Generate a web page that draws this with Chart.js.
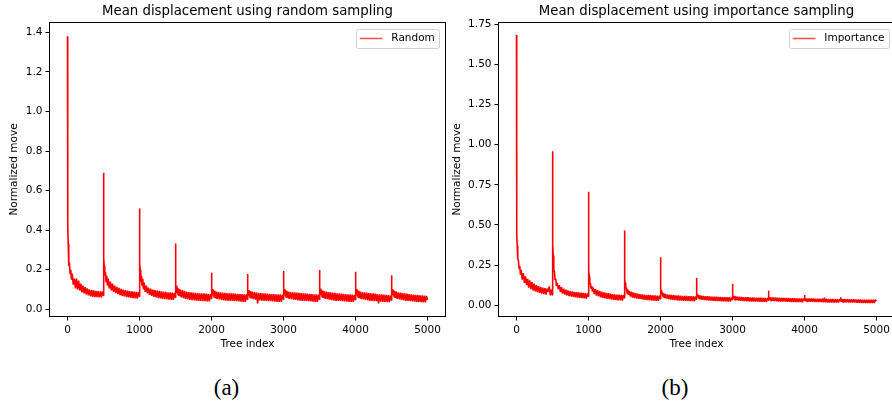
<!DOCTYPE html>
<html><head><meta charset="utf-8">
<script src="https://cdn.jsdelivr.net/npm/chart.js@4.4.0/dist/chart.umd.min.js"></script>
<style>
html,body{margin:0;padding:0;background:#fff;width:892px;height:404px;overflow:hidden;position:relative}
canvas{position:absolute;top:0}
#ca{left:0;width:446px;height:362px}
#cb{left:446px;width:450px;height:362px}
.cap{position:absolute;font-family:'Liberation Serif','DejaVu Serif',serif;font-size:23px;color:#000;transform:translate(-50%,-50%);top:388px;white-space:nowrap}
</style></head><body>
<canvas id="ca" width="446" height="362"></canvas>
<canvas id="cb" width="450" height="362"></canvas>
<div class="cap" style="left:226.5px">(a)</div>
<div class="cap" style="left:675px">(b)</div>
<script>
// ---- data ----
const segmentStarts = [0, 500, 1000, 1500, 2000, 2500, 3000, 3500, 4000, 4500];
const sampleOffsets = [0, 1, 3, 6, 10, 15, 20, 27, 35, 45, 55, 65, 80, 95, 110, 125, 140, 155, 170, 185,
  200, 215, 230, 245, 260, 275, 290, 305, 320, 335, 350, 365, 380, 395, 410, 425, 440, 455, 470, 485, 499];
const xTicks = [0, 1000, 2000, 3000, 4000, 5000];
const yTicksRandom = [0, 0.2, 0.4, 0.6, 0.8, 1.0, 1.2, 1.4];
const yTicksImportance = [0, 0.25, 0.5, 0.75, 1.0, 1.25, 1.5, 1.75];

const randomMove = [
  1.38, 0.64, 0.53, 0.42, 0.33, 0.29, 0.22, 0.235, 0.18, 0.2, 0.15, 0.18, 0.125, 0.155, 0.105, 0.155, 0.1, 0.145, 0.095, 0.13,
  0.085, 0.12, 0.08, 0.112, 0.075, 0.106, 0.07, 0.1, 0.066, 0.097, 0.063, 0.095, 0.062, 0.093, 0.061, 0.092, 0.06, 0.091, 0.06, 0.09, 0.07,
  0.69, 0.42, 0.30, 0.26, 0.22, 0.22, 0.17, 0.19, 0.14, 0.17, 0.12, 0.155, 0.105, 0.14, 0.095, 0.13, 0.088, 0.12, 0.082, 0.113,
  0.077, 0.108, 0.072, 0.103, 0.068, 0.1, 0.065, 0.097, 0.062, 0.094, 0.06, 0.092, 0.058, 0.09, 0.056, 0.089, 0.055, 0.088, 0.054, 0.087, 0.065,
  0.51, 0.33, 0.27, 0.23, 0.2, 0.2, 0.14, 0.17, 0.12, 0.155, 0.1, 0.135, 0.088, 0.12, 0.08, 0.11, 0.073, 0.104, 0.068, 0.1,
  0.063, 0.097, 0.06, 0.095, 0.057, 0.093, 0.055, 0.091, 0.053, 0.089, 0.052, 0.088, 0.05, 0.086, 0.049, 0.085, 0.048, 0.084, 0.047, 0.083, 0.06,
  0.333, 0.19, 0.14, 0.12, 0.1, 0.12, 0.083, 0.11, 0.073, 0.105, 0.067, 0.1, 0.06, 0.097, 0.056, 0.093, 0.053, 0.09, 0.05, 0.087,
  0.048, 0.085, 0.046, 0.084, 0.045, 0.083, 0.044, 0.082, 0.043, 0.081, 0.042, 0.08, 0.041, 0.08, 0.041, 0.079, 0.04, 0.078, 0.04, 0.077, 0.055,
  0.185, 0.13, 0.11, 0.1, 0.085, 0.103, 0.07, 0.097, 0.061, 0.093, 0.055, 0.09, 0.052, 0.088, 0.05, 0.086, 0.047, 0.084, 0.045, 0.083,
  0.044, 0.082, 0.043, 0.081, 0.042, 0.08, 0.042, 0.08, 0.041, 0.079, 0.041, 0.078, 0.04, 0.077, 0.039, 0.077, 0.038, 0.076, 0.038, 0.075, 0.05,
  0.178, 0.125, 0.105, 0.095, 0.083, 0.098, 0.067, 0.095, 0.059, 0.091, 0.055, 0.089, 0.051, 0.087, 0.049, 0.085, 0.03, 0.083, 0.045, 0.082,
  0.044, 0.081, 0.043, 0.08, 0.042, 0.079, 0.041, 0.078, 0.041, 0.077, 0.04, 0.077, 0.039, 0.076, 0.038, 0.075, 0.038, 0.075, 0.037, 0.074, 0.05,
  0.193, 0.14, 0.115, 0.1, 0.085, 0.103, 0.07, 0.097, 0.061, 0.093, 0.057, 0.09, 0.053, 0.088, 0.051, 0.086, 0.049, 0.085, 0.047, 0.084,
  0.045, 0.083, 0.044, 0.082, 0.043, 0.081, 0.043, 0.08, 0.042, 0.079, 0.041, 0.078, 0.04, 0.077, 0.039, 0.076, 0.038, 0.075, 0.038, 0.074, 0.05,
  0.198, 0.14, 0.12, 0.105, 0.087, 0.105, 0.072, 0.099, 0.063, 0.094, 0.057, 0.091, 0.053, 0.089, 0.051, 0.087, 0.048, 0.085, 0.046, 0.084,
  0.044, 0.083, 0.043, 0.081, 0.042, 0.08, 0.042, 0.079, 0.041, 0.078, 0.04, 0.077, 0.039, 0.076, 0.038, 0.075, 0.037, 0.074, 0.037, 0.073, 0.048,
  0.19, 0.135, 0.115, 0.1, 0.085, 0.102, 0.07, 0.097, 0.061, 0.093, 0.056, 0.089, 0.052, 0.087, 0.05, 0.085, 0.047, 0.084, 0.045, 0.082,
  0.043, 0.081, 0.042, 0.08, 0.041, 0.079, 0.041, 0.077, 0.03, 0.076, 0.039, 0.075, 0.038, 0.074, 0.037, 0.073, 0.036, 0.072, 0.036, 0.071, 0.046,
  0.172, 0.125, 0.11, 0.1, 0.085, 0.103, 0.072, 0.097, 0.063, 0.093, 0.057, 0.089, 0.053, 0.086, 0.05, 0.084, 0.047, 0.082, 0.045, 0.08,
  0.043, 0.079, 0.042, 0.077, 0.041, 0.076, 0.04, 0.074, 0.039, 0.073, 0.038, 0.072, 0.037, 0.071, 0.036, 0.07, 0.035, 0.069, 0.035, 0.068, 0.047
];

const importanceMove = [
  1.683, 0.63, 0.5, 0.43, 0.37, 0.34, 0.29, 0.28, 0.23, 0.245, 0.19, 0.22, 0.16, 0.2, 0.14, 0.18, 0.125, 0.165, 0.11, 0.155,
  0.1, 0.145, 0.092, 0.135, 0.087, 0.125, 0.082, 0.12, 0.077, 0.115, 0.073, 0.11, 0.07, 0.107, 0.067, 0.104, 0.085, 0.118, 0.062, 0.098, 0.065,
  0.96, 0.55, 0.45, 0.38, 0.31, 0.28, 0.22, 0.21, 0.16, 0.165, 0.12, 0.14, 0.1, 0.125, 0.082, 0.113, 0.073, 0.103, 0.066, 0.097,
  0.062, 0.092, 0.058, 0.088, 0.055, 0.086, 0.053, 0.084, 0.05, 0.082, 0.048, 0.08, 0.046, 0.078, 0.045, 0.077, 0.043, 0.075, 0.042, 0.074, 0.055,
  0.707, 0.4, 0.3, 0.22, 0.18, 0.165, 0.135, 0.135, 0.105, 0.12, 0.085, 0.11, 0.07, 0.1, 0.06, 0.095, 0.055, 0.09, 0.05, 0.085,
  0.046, 0.08, 0.043, 0.077, 0.04, 0.075, 0.038, 0.072, 0.036, 0.07, 0.034, 0.068, 0.033, 0.067, 0.031, 0.066, 0.03, 0.065, 0.029, 0.064, 0.045,
  0.465, 0.25, 0.19, 0.16, 0.14, 0.13, 0.1, 0.11, 0.075, 0.1, 0.065, 0.09, 0.055, 0.085, 0.048, 0.08, 0.045, 0.076, 0.042, 0.073,
  0.04, 0.07, 0.038, 0.068, 0.036, 0.066, 0.034, 0.065, 0.032, 0.064, 0.031, 0.063, 0.03, 0.062, 0.029, 0.061, 0.028, 0.06, 0.027, 0.06, 0.04,
  0.299, 0.16, 0.12, 0.1, 0.09, 0.09, 0.065, 0.08, 0.053, 0.075, 0.046, 0.071, 0.042, 0.068, 0.038, 0.066, 0.036, 0.064, 0.034, 0.063,
  0.032, 0.062, 0.031, 0.061, 0.03, 0.06, 0.029, 0.059, 0.028, 0.059, 0.027, 0.058, 0.027, 0.057, 0.026, 0.057, 0.026, 0.056, 0.025, 0.056, 0.038,
  0.172, 0.1, 0.08, 0.07, 0.065, 0.068, 0.05, 0.064, 0.041, 0.062, 0.037, 0.06, 0.034, 0.058, 0.032, 0.057, 0.031, 0.056, 0.03, 0.055,
  0.029, 0.054, 0.028, 0.054, 0.027, 0.053, 0.027, 0.052, 0.026, 0.052, 0.025, 0.051, 0.025, 0.051, 0.024, 0.05, 0.024, 0.05, 0.023, 0.049, 0.035,
  0.134, 0.08, 0.065, 0.058, 0.054, 0.06, 0.04, 0.058, 0.034, 0.056, 0.032, 0.054, 0.03, 0.053, 0.028, 0.052, 0.027, 0.051, 0.026, 0.05,
  0.025, 0.05, 0.025, 0.049, 0.024, 0.049, 0.024, 0.048, 0.023, 0.048, 0.023, 0.047, 0.022, 0.047, 0.022, 0.046, 0.022, 0.046, 0.021, 0.046, 0.032,
  0.091, 0.06, 0.05, 0.047, 0.045, 0.05, 0.032, 0.05, 0.028, 0.049, 0.027, 0.048, 0.026, 0.048, 0.025, 0.047, 0.024, 0.047, 0.024, 0.046,
  0.023, 0.046, 0.023, 0.045, 0.022, 0.045, 0.022, 0.044, 0.021, 0.044, 0.021, 0.044, 0.02, 0.043, 0.02, 0.043, 0.02, 0.043, 0.019, 0.042, 0.03,
  0.064, 0.045, 0.04, 0.038, 0.037, 0.044, 0.026, 0.043, 0.024, 0.043, 0.023, 0.043, 0.022, 0.042, 0.022, 0.042, 0.021, 0.041, 0.021, 0.041,
  0.02, 0.041, 0.02, 0.04, 0.019, 0.047, 0.019, 0.04, 0.018, 0.039, 0.018, 0.039, 0.018, 0.039, 0.017, 0.038, 0.017, 0.038, 0.017, 0.038, 0.027,
  0.05, 0.036, 0.034, 0.033, 0.032, 0.039, 0.022, 0.039, 0.02, 0.039, 0.019, 0.038, 0.019, 0.038, 0.018, 0.037, 0.018, 0.037, 0.017, 0.037,
  0.017, 0.036, 0.016, 0.036, 0.016, 0.036, 0.015, 0.035, 0.015, 0.035, 0.015, 0.035, 0.014, 0.035, 0.014, 0.034, 0.014, 0.034, 0.014, 0.034, 0.026
];

// ---- chart building ----
const treeIndex = segmentStarts.flatMap(s => sampleOffsets.map(o => s + o));
const FONT = "'DejaVu Sans', sans-serif";
const LINE = '#ff0000';
const TEXT = '#000';
const TICK_SIZE = 10.5;

const framePlugin = {
  id: 'frameLegend',
  afterDatasetsDraw(chart, args, opts) {
    const {ctx, chartArea: a} = chart;
    ctx.save();
    ctx.strokeStyle = '#000';
    ctx.lineWidth = 1;
    ctx.strokeRect(a.left, a.top, a.right - a.left, a.bottom - a.top);
    ctx.font = TICK_SIZE + 'px ' + FONT;
    const label = chart.data.datasets[0].label;
    const tw = ctx.measureText(label).width;
    const boxRight = a.right - opts.gapRight;
    const boxTop = a.top + 6;
    const boxH = 19;
    const textLeft = boxRight - 4.5 - tw;
    const lineRight = textLeft - 9;
    const lineLeft = lineRight - 22.5;
    const boxLeft = lineLeft - 4;
    ctx.fillStyle = 'rgba(255,255,255,0.85)';
    ctx.strokeStyle = '#d0d0d0';
    ctx.beginPath();
    ctx.roundRect(Math.round(boxLeft) + 0.5, Math.round(boxTop) + 0.5, Math.round(boxRight - boxLeft), boxH, 2);
    ctx.fill();
    ctx.stroke();
    ctx.strokeStyle = 'rgba(255,0,0,0.7)';
    ctx.lineWidth = 1.5;
    const ly = Math.round(boxTop) + 9.5;
    ctx.beginPath();
    ctx.moveTo(lineLeft, ly);
    ctx.lineTo(lineRight, ly);
    ctx.stroke();
    ctx.fillStyle = TEXT;
    ctx.textBaseline = 'middle';
    ctx.textAlign = 'left';
    ctx.fillText(label, textLeft, ly);
    ctx.restore();
  }
};

function buildChart(id, o) {
  const points = treeIndex.map((x, i) => ({x: x, y: o.values[i]}));
  return new Chart(document.getElementById(id), {
    type: 'line',
    data: {datasets: [{label: o.label, data: points, borderColor: LINE, borderWidth: 1.6,
      borderJoinStyle: 'bevel', borderCapStyle: 'butt',
      pointRadius: 0, tension: 0, fill: false}]},
    options: {
      responsive: false, animation: false, devicePixelRatio: 1,
      layout: {padding: {left: 0, right: o.padRight, top: 0, bottom: 0}},
      plugins: {
        legend: {display: false},
        tooltip: {enabled: false},
        title: {display: true, text: o.title, fullSize: false, color: TEXT,
          font: {family: FONT, size: 13.3, weight: 'normal', lineHeight: 1.2},
          padding: {top: 3.3, bottom: 3.24}},
        frameLegend: {gapRight: o.legendGap}
      },
      scales: {
        x: {
          type: 'linear', min: -250, max: 5250,
          afterFit: s => { s.height = 45.5; },
          afterBuildTicks: s => { s.ticks = xTicks.map(v => ({value: v})); },
          ticks: {font: {family: FONT, size: TICK_SIZE}, color: TEXT, padding: 3.5, maxRotation: 0, autoSkip: false,
            callback: v => String(v)},
          grid: {display: true, drawOnChartArea: false, drawTicks: true, tickLength: 4, tickColor: '#000', tickWidth: 1},
          border: {display: false},
          title: {display: true, text: 'Tree index', color: TEXT, font: {family: FONT, size: TICK_SIZE},
            padding: {top: 0, bottom: 11}}
        },
        y: {
          type: 'linear', min: o.yMin, max: o.yMax,
          afterFit: s => { s.width = o.yWidth; },
          afterBuildTicks: s => { s.ticks = o.yTicks.map(v => ({value: v})); },
          ticks: {font: {family: FONT, size: TICK_SIZE}, color: TEXT, padding: 3, autoSkip: false,
            callback: v => Number(v).toFixed(o.decimals)},
          grid: {display: true, drawOnChartArea: false, drawTicks: true, tickLength: 4, tickColor: '#000', tickWidth: 1},
          border: {display: false},
          title: {display: true, text: 'Normalized move', color: TEXT, font: {family: FONT, size: TICK_SIZE},
            padding: {top: o.yTitlePad, bottom: 0}}
        }
      }
    },
    plugins: [framePlugin]
  });
}

buildChart('ca', {
  values: randomMove, label: 'Random', title: 'Mean displacement using random sampling',
  yMin: -0.0364, yMax: 1.4496, yTicks: yTicksRandom, decimals: 1,
  yWidth: 49.5, padRight: 0.5, yTitlePad: 8.2, legendGap: 6.2
});
buildChart('cb', {
  values: importanceMove, label: 'Importance', title: 'Mean displacement using importance sampling',
  yMin: -0.0698, yMax: 1.761, yTicks: yTicksImportance, decimals: 2,
  yWidth: 52.5, padRight: 1.5, yTitlePad: 5.2, legendGap: 5.5
});
</script>
</body></html>
